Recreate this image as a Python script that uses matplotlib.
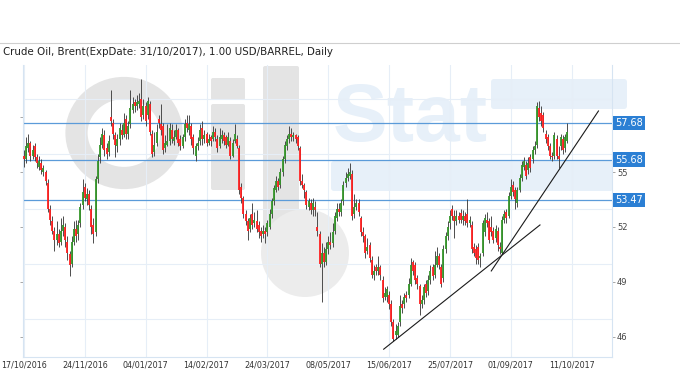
import matplotlib
matplotlib.use('Agg')
import matplotlib.pyplot as plt
from matplotlib.patches import Ellipse, Circle, FancyBboxPatch
import numpy as np

title = 'Crude Oil, Brent(ExpDate: 31/10/2017), 1.00 USD/BARREL, Daily'
date_labels = ['17/10/2016', '24/11/2016', '04/01/2017', '14/02/2017', '24/03/2017',
               '08/05/2017', '15/06/2017', '25/07/2017', '01/09/2017', '11/10/2017']
date_pos = [0, 28, 56, 84, 112, 140, 168, 196, 224, 252]   # bar index of each label
price_ticks = [58, 55, 52, 49, 46]
price_labels = ['', '55', '52', '49', '46']   # 58 sits under the 57.68 tag
grid_prices = [59, 56, 53, 50, 47]
levels = [57.68, 55.68, 53.47]
# trend lines drawn on the chart: (bar index, price)
trend_a = [(165.5, 45.33), (237.4, 52.11)]
trend_b = [(215.0, 49.6), (264.3, 58.33)]

# daily bars
opens = [55.9, 55.7, 56.3, 56.6, 55.9, 56.4, 55.8, 55.3, 55.5, 55.0,
         55.0, 54.4, 53.0, 52.3, 51.8, 51.3, 51.6, 51.2, 51.8, 52.0,
         51.2, 50.5, 50.0, 51.2, 51.9, 51.6, 52.2, 53.2, 54.2, 53.5,
         53.8, 53.0, 52.1, 51.7, 54.6, 55.8, 56.5, 57.0, 56.3, 56.1,
         58.0, 57.7, 57.0, 56.4, 56.8, 57.3, 57.0, 57.9, 57.1, 57.6,
         58.4, 58.8, 58.6, 58.7, 59.0, 58.1, 58.6, 58.1, 58.7, 57.1,
         56.1, 56.6, 57.9, 57.6, 57.5, 56.3, 56.5, 56.7, 57.3, 56.7,
         56.9, 57.3, 56.8, 56.4, 56.9, 57.7, 57.3, 57.5, 56.9, 55.9,
         56.4, 56.7, 57.4, 56.8, 57.1, 56.6, 56.9, 56.8, 57.2, 56.8,
         56.4, 56.8, 57.0, 56.9, 56.5, 56.7, 55.9, 56.7, 56.8, 56.3,
         54.2, 53.6, 52.7, 52.3, 51.9, 52.7, 52.2, 52.3, 52.1, 51.8,
         51.6, 51.8, 51.7, 52.0, 52.7, 53.4, 54.0, 54.5, 54.3, 55.0,
         55.7, 56.4, 56.8, 57.1, 56.9, 57.0, 56.9, 56.3, 54.5, 54.3,
         53.9, 53.1, 53.3, 52.9, 53.1, 52.0, 51.6, 50.0, 50.6, 50.1,
         50.8, 51.2, 51.1, 51.8, 52.5, 53.0, 52.8, 53.4, 54.4, 54.7,
         54.8, 54.9, 52.7, 53.1, 53.3, 52.5, 51.7, 51.5, 50.7, 51.0,
         50.2, 49.4, 49.8, 49.6, 49.8, 49.1, 48.2, 48.2, 48.3, 47.8,
         46.8, 46.1, 46.1, 46.8, 47.8, 47.8, 48.3, 48.3, 48.9, 50.1,
         49.9, 49.2, 48.8, 47.8, 48.0, 48.9, 48.5, 49.1, 49.8, 49.4,
         49.9, 50.4, 49.8, 49.2, 50.8, 51.5, 52.2, 53.0, 52.6, 52.3,
         52.6, 52.75, 52.4, 52.6, 52.7, 52.2, 52.1, 50.9, 50.8, 50.9,
         50.3, 50.6, 51.7, 52.4, 52.3, 52.0, 51.8, 51.4, 51.8, 50.9,
         50.6, 52.4, 52.8, 52.6, 53.7, 54.3, 54.0, 53.3, 54.0, 54.7,
         55.3, 55.4, 55.1, 55.8, 55.7, 56.2, 56.5, 58.5, 58.2, 58.1,
         57.1, 56.9, 56.4, 55.9, 55.9, 56.8, 55.9, 56.4, 56.8, 56.3,
         56.7]
highs = [56.2, 56.9, 57.1, 56.7, 56.5, 56.6, 56.0, 55.9, 55.7, 55.4,
         55.1, 54.6, 53.2, 52.6, 52.0, 52.3, 51.9, 52.5, 52.6, 52.2,
         51.5, 50.7, 51.5, 52.3, 52.4, 52.4, 53.3, 54.6, 54.4, 54.1,
         54.0, 53.2, 52.5, 54.8, 56.0, 56.9, 57.4, 57.3, 56.6, 57.0,
         59.5, 57.9, 57.2, 57.1, 57.7, 57.6, 58.2, 58.1, 57.8, 59.5,
         59.1, 59.0, 59.2, 59.3, 60.1, 59.0, 58.8, 59.1, 58.9, 57.3,
         57.2, 57.6, 58.1, 58.7, 57.7, 57.0, 57.6, 57.7, 57.6, 57.3,
         57.6, 57.4, 57.0, 57.1, 57.9, 58.1, 58.1, 57.7, 57.1, 56.6,
         56.9, 57.6, 57.8, 57.3, 57.2, 57.1, 57.0, 57.5, 57.4, 57.0,
         57.4, 57.3, 57.2, 57.0, 57.2, 56.9, 56.8, 57.6, 57.0, 56.5,
         54.4, 53.7, 52.9, 52.5, 52.7, 53.3, 52.8, 52.9, 52.3, 52.0,
         52.1, 52.0, 52.4, 53.0, 53.6, 54.3, 54.8, 54.7, 55.2, 55.9,
         56.7, 57.0, 57.5, 57.4, 57.2, 57.1, 57.0, 56.4, 54.9, 54.4,
         54.0, 53.6, 53.5, 53.6, 53.4, 52.8, 51.8, 51.1, 50.9, 51.2,
         51.5, 51.7, 52.2, 52.8, 53.3, 53.3, 53.5, 54.5, 55.0, 55.2,
         55.5, 55.1, 53.8, 53.5, 53.5, 52.6, 52.0, 51.6, 51.4, 51.2,
         50.4, 49.9, 50.0, 50.4, 49.9, 49.3, 48.7, 48.8, 48.5, 48.0,
         47.0, 46.7, 46.8, 48.3, 48.0, 48.4, 48.5, 49.2, 50.3, 50.2,
         50.1, 49.4, 48.9, 48.3, 48.9, 49.1, 49.4, 49.9, 50.0, 50.7,
         50.9, 50.6, 50.0, 51.0, 51.7, 52.3, 52.9, 53.2, 52.9, 52.9,
         52.8, 53.0, 52.9, 52.8, 53.5, 52.6, 52.3, 51.1, 51.0, 51.1,
         50.6, 52.4, 52.7, 52.8, 52.5, 52.6, 52.0, 52.1, 52.0, 51.2,
         52.6, 52.9, 53.0, 53.9, 54.6, 54.5, 54.2, 54.2, 54.9, 55.6,
         55.8, 55.6, 55.8, 56.0, 56.4, 56.7, 58.8, 58.9, 58.6, 58.3,
         57.3, 57.1, 56.6, 56.1, 57.2, 57.0, 56.4, 57.1, 57.0, 57.1,
         57.65]
lows = [55.3, 55.5, 56.1, 55.6, 55.7, 55.6, 55.2, 55.1, 54.9, 54.8,
        54.3, 52.8, 52.1, 51.6, 50.7, 51.0, 50.9, 51.0, 51.5, 50.9,
        50.2, 49.3, 49.8, 51.0, 51.2, 51.3, 52.0, 53.0, 53.4, 53.2,
        52.9, 51.6, 51.1, 51.5, 54.4, 55.5, 56.3, 55.9, 55.7, 55.9,
        57.5, 56.8, 55.8, 56.1, 56.5, 56.8, 56.9, 56.8, 56.8, 57.4,
        58.2, 58.3, 58.4, 58.5, 57.8, 57.9, 57.5, 57.9, 57.0, 55.8,
        55.9, 56.4, 57.4, 57.0, 56.0, 56.1, 56.4, 56.5, 56.6, 56.5,
        56.8, 56.4, 56.2, 56.3, 56.7, 57.2, 57.0, 56.5, 56.0, 55.6,
        56.2, 56.5, 56.5, 56.6, 56.4, 56.5, 56.4, 56.7, 56.7, 56.1,
        56.3, 56.6, 56.5, 56.3, 56.4, 55.7, 55.8, 56.6, 56.3, 53.8,
        53.3, 52.5, 52.1, 51.3, 51.7, 51.9, 52.0, 51.7, 51.4, 51.2,
        51.4, 51.1, 51.5, 51.9, 52.5, 53.2, 53.9, 54.0, 54.1, 54.8,
        55.5, 56.2, 56.6, 56.7, 56.7, 56.6, 56.2, 54.3, 54.1, 53.6,
        53.0, 52.9, 52.7, 52.6, 52.6, 51.5, 49.8, 47.9, 49.8, 49.9,
        50.5, 50.8, 50.9, 51.6, 52.3, 52.6, 52.6, 53.2, 54.2, 54.5,
        54.6, 52.4, 52.5, 52.9, 52.6, 51.5, 51.2, 50.3, 50.5, 50.1,
        49.2, 49.1, 49.4, 49.4, 49.1, 47.9, 48.0, 47.9, 47.5, 46.6,
        45.75, 45.9, 46.0, 46.6, 47.3, 47.6, 47.9, 48.1, 48.8, 49.4,
        48.9, 48.6, 47.2, 47.6, 47.8, 48.2, 48.3, 48.9, 49.1, 49.2,
        49.8, 49.7, 48.7, 49.0, 50.6, 51.3, 51.9, 52.4, 51.4, 52.1,
        52.2, 52.2, 52.1, 52.1, 52.0, 52.0, 50.6, 50.4, 50.0, 50.0,
        49.8, 50.4, 51.5, 52.0, 51.1, 51.5, 51.1, 51.2, 50.7, 50.5,
        50.5, 52.2, 52.2, 52.5, 53.5, 53.7, 53.0, 53.1, 53.9, 54.5,
        55.1, 54.6, 54.9, 55.0, 55.5, 56.0, 56.3, 57.8, 57.5, 57.2,
        56.6, 56.2, 55.7, 55.6, 55.7, 55.7, 55.2, 56.2, 56.0, 56.1,
        56.6]
closes = [55.7, 56.4, 56.6, 55.9, 56.2, 55.8, 55.5, 55.6, 55.1, 55.2,
          54.5, 53.0, 52.4, 51.8, 51.3, 51.6, 51.1, 51.8, 52.1, 51.3,
          50.6, 49.9, 51.2, 51.9, 51.5, 52.1, 53.1, 53.9, 53.6, 53.8,
          53.2, 52.0, 51.6, 54.6, 55.6, 56.5, 57.1, 56.2, 56.0, 56.7,
          57.8, 57.1, 56.5, 56.8, 57.4, 57.0, 57.7, 57.1, 57.5, 58.5,
          58.7, 58.6, 58.8, 58.9, 58.0, 58.6, 57.8, 58.9, 57.2, 56.0,
          56.5, 57.2, 57.7, 57.3, 56.2, 56.6, 56.7, 57.4, 56.8, 56.9,
          57.3, 56.6, 56.4, 56.9, 57.6, 57.4, 57.6, 56.8, 56.3, 56.4,
          56.6, 57.3, 56.8, 57.0, 56.6, 56.8, 56.7, 57.2, 56.9, 56.3,
          56.9, 57.0, 56.7, 56.5, 56.9, 55.9, 56.6, 57.1, 56.4, 54.0,
          53.6, 52.7, 52.3, 51.8, 52.5, 52.1, 52.4, 51.9, 51.7, 51.5,
          51.8, 51.6, 52.2, 52.7, 53.4, 54.1, 54.5, 54.2, 55.0, 55.7,
          56.5, 56.8, 57.1, 56.9, 57.0, 56.8, 56.4, 54.5, 54.3, 54.0,
          53.2, 53.4, 52.9, 53.3, 52.9, 51.8, 50.0, 50.6, 50.1, 50.8,
          51.2, 51.0, 51.7, 52.6, 53.0, 52.8, 53.3, 54.3, 54.7, 54.9,
          55.0, 52.6, 53.1, 53.3, 52.8, 51.7, 51.5, 50.6, 50.9, 50.3,
          49.4, 49.6, 49.6, 49.8, 49.4, 48.1, 48.4, 48.6, 47.8, 46.8,
          45.9, 46.3, 46.6, 47.7, 47.6, 48.2, 48.1, 48.9, 49.9, 49.6,
          49.1, 48.9, 47.8, 48.0, 48.7, 48.4, 49.1, 49.6, 49.3, 49.9,
          50.4, 49.9, 48.9, 50.8, 51.5, 52.0, 52.6, 52.6, 52.3, 52.6,
          52.4, 52.4, 52.6, 52.3, 52.2, 52.4, 50.8, 50.6, 50.3, 50.2,
          50.4, 52.2, 52.5, 52.2, 51.3, 51.7, 51.3, 51.9, 51.0, 50.8,
          52.4, 52.7, 52.5, 53.7, 54.2, 53.9, 53.5, 54.0, 54.7, 55.4,
          55.6, 54.8, 55.5, 55.2, 56.2, 56.4, 58.6, 58.0, 57.8, 57.4,
          56.8, 56.4, 55.9, 55.8, 57.0, 55.9, 55.7, 56.9, 56.2, 56.9,
          57.2]

W, H = 680, 380
fig = plt.figure(figsize=(W / 100, H / 100), dpi=100)

# background layer (pixel coords) for watermark + header rule
bg = fig.add_axes([0, 0, 1, 1], zorder=0)
bg.set_xlim(0, W)
bg.set_ylim(H, 0)
bg.axis('off')
bg.plot([0, W], [43, 43], color='#cfcfcf', lw=0.8)
wm_gray = '#e4e4e4'
wm_blue = '#e7f0f9'
bg.add_patch(Ellipse((124, 133), 95, 90, fill=False, ec=wm_gray, lw=16))
bg.add_patch(FancyBboxPatch((213, 80), 30, 18, boxstyle='round,pad=2', fc=wm_gray, ec='none'))
bg.add_patch(FancyBboxPatch((213, 106), 30, 82, boxstyle='round,pad=2', fc=wm_gray, ec='none'))
bg.add_patch(FancyBboxPatch((265, 68), 32, 160, boxstyle='round,pad=2', fc=wm_gray, ec='none'))
bg.add_patch(Circle((305, 253), 44, fc='#ececec', ec='none'))
bg.add_patch(FancyBboxPatch((494, 82), 130, 24, boxstyle='round,pad=3', fc=wm_blue, ec='none'))
bg.add_patch(FancyBboxPatch((334, 164), 276, 24, boxstyle='round,pad=3', fc=wm_blue, ec='none'))
bg.text(333, 141, 'Stat', fontsize=59, fontweight='bold', family='Liberation Sans',
        color=wm_blue, ha='left', va='baseline')

fig.text(3 / W, 1 - 52 / H, title, fontsize=7.4, color='#222222', va='center', ha='left')

left, right, top, bottom = 22.5, 611.5, 65, 356.7
ax = fig.add_axes([left / W, 1 - bottom / H, (right - left) / W, (bottom - top) / H], zorder=1)
ax.set_facecolor('none')

x = np.arange(len(closes))
o = np.array(opens)
c = np.array(closes)
up = c >= o
ax.vlines(x, lows, highs, color='#404040', lw=0.65, zorder=3)
ax.vlines(x[up], o[up], c[up], color='#35962a', lw=1.3, zorder=4)
ax.vlines(x[~up], c[~up], o[~up], color='#ff2020', lw=1.3, zorder=4)

for lv in levels:
    ax.axhline(lv, color='#5b9bd9', lw=0.9, zorder=2)
    ax.text(1.0055, lv, f'{lv:.2f}', transform=ax.get_yaxis_transform(), fontsize=7,
            color='white', va='center', ha='left', zorder=10, clip_on=False,
            bbox=dict(boxstyle='square,pad=0.22', fc='#2b7fd4', ec='none'))

for t in (trend_a, trend_b):
    ax.plot([t[0][0], t[1][0]], [t[0][1], t[1][1]], color='#1a1a1a', lw=0.8, zorder=5)

for gp in grid_prices:
    ax.axhline(gp, color='#e6eef7', lw=0.8, zorder=1)
for dp in date_pos:
    ax.axvline(dp, color='#e6eef7', lw=0.8, zorder=1)

ax.set_xlim(-0.64, 270.3)
ax.set_ylim(44.92, 60.84)
ax.set_xticks(date_pos, date_labels)
ax.tick_params(axis='x', length=0, pad=3, labelsize=5.8, labelcolor='#333333')
ax.yaxis.tick_right()
ax.set_yticks(price_ticks, price_labels)
ax.tick_params(axis='y', length=2.5, width=0.6, color='#999999', pad=1.5,
               labelsize=6, labelcolor='#444444', left=True)
for s in ('left', 'right', 'bottom'):
    ax.spines[s].set_color('#d6e4f2')
    ax.spines[s].set_linewidth(0.8)
ax.spines['top'].set_visible(False)

fig.savefig('out.png', dpi=100)
